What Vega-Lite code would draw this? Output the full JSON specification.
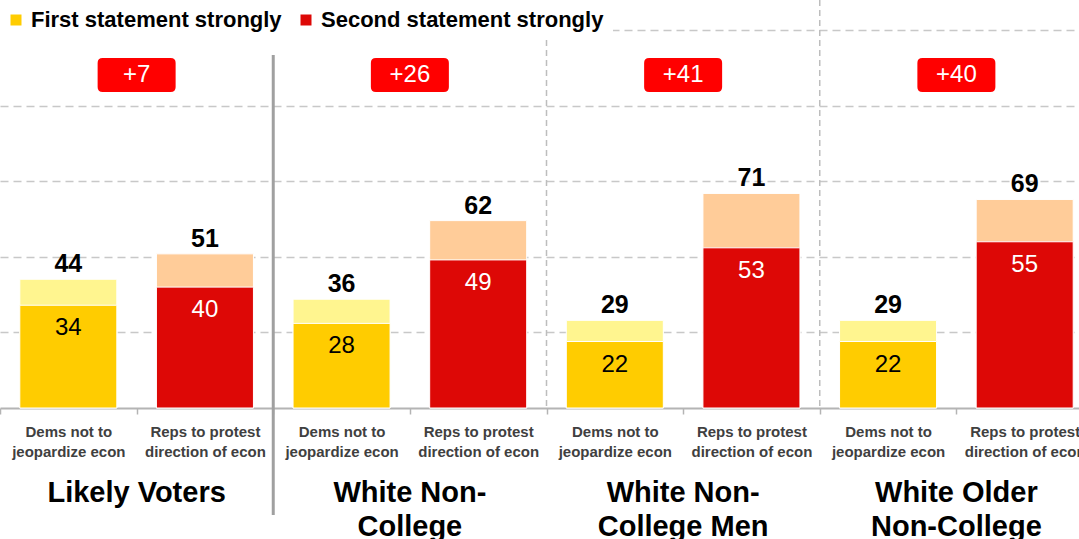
{
  "$schema": "https://vega.github.io/schema/vega-lite/v6.json",
  "autosize": "none",
  "width": 1093,
  "height": 408,
  "padding": {"left": 0, "top": 0, "right": 0, "bottom": 131},
  "background": "white",
  "config": {"font": "Liberation Sans", "view": {"stroke": null}},
  "datasets": {
    "bars": [
      {"group": "Likely Voters", "bar": "LV-dem", "side": "First statement strongly", "strong": 34, "total": 44, "top": 42.6},
      {"group": "Likely Voters", "bar": "LV-rep", "side": "Second statement strongly", "strong": 40, "total": 51, "top": 51},
      {"group": "White Non-\nCollege", "bar": "WNC-dem", "side": "First statement strongly", "strong": 28, "total": 36, "top": 36},
      {"group": "White Non-\nCollege", "bar": "WNC-rep", "side": "Second statement strongly", "strong": 49, "total": 62, "top": 62},
      {"group": "White Non-\nCollege Men", "bar": "WNCM-dem", "side": "First statement strongly", "strong": 22, "total": 29, "top": 29},
      {"group": "White Non-\nCollege Men", "bar": "WNCM-rep", "side": "Second statement strongly", "strong": 53, "total": 71, "top": 71},
      {"group": "White Older\nNon-College", "bar": "WONC-dem", "side": "First statement strongly", "strong": 22, "total": 29, "top": 29},
      {"group": "White Older\nNon-College", "bar": "WONC-rep", "side": "Second statement strongly", "strong": 55, "total": 69, "top": 69}
    ],
    "groups": [
      {"group": "Likely Voters", "bar": "LV-dem", "diff": "+7", "sep": "none"},
      {"group": "White Non-\nCollege", "bar": "WNC-dem", "diff": "+26", "sep": "solid"},
      {"group": "White Non-\nCollege Men", "bar": "WNCM-dem", "diff": "+41", "sep": "dashed"},
      {"group": "White Older\nNon-College", "bar": "WONC-dem", "diff": "+40", "sep": "dashed"}
    ]
  },
  "layer": [
    {
      "data": {"name": "bars"},
      "mark": {"type": "bar", "width": {"band": 0.71}, "stroke": "white", "strokeWidth": 1},
      "encoding": {
        "x": {
          "field": "bar",
          "type": "nominal",
          "scale": {
            "domain": ["LV-dem", "LV-rep", "WNC-dem", "WNC-rep", "WNCM-dem", "WNCM-rep", "WONC-dem", "WONC-rep"],
            "paddingInner": 0,
            "paddingOuter": 0
          },
          "axis": {
            "orient": "bottom",
            "title": null,
            "labelAngle": 0,
            "labelExpr": "isString(datum.value) ? (indexof(datum.value, 'dem') >= 0 ? ['Dems not to', 'jeopardize econ'] : ['Reps to protest', 'direction of econ']) : ''",
            "labelFontSize": 15,
            "labelFontWeight": "bold",
            "labelColor": "#404040",
            "labelLineHeight": 20,
            "labelPadding": 10,
            "labelLimit": 0,
            "labelOverlap": false,
            "labelFlush": false,
            "tickBand": "extent",
            "tickColor": "#B4B4B4",
            "tickSize": 6,
            "tickWidth": 1.5,
            "domainColor": "#B4B4B4",
            "domainWidth": 2,
            "grid": false
          }
        },
        "y": {
          "field": "top",
          "type": "quantitative",
          "scale": {"domain": [0, 135], "nice": false, "zero": false},
          "axis": {
            "title": null,
            "labels": false,
            "ticks": false,
            "domain": false,
            "grid": true,
            "values": [25, 50, 75, 100, 125],
            "gridColor": "#C8C8C8",
            "gridDash": [8, 5],
            "gridWidth": 1.5
          }
        },
        "color": {
          "condition": {"test": "datum.side == 'First statement strongly'", "value": "#FFF58F"},
          "value": "#FFCC99"
        }
      }
    },
    {
      "data": {"name": "bars"},
      "mark": {"type": "bar", "width": {"band": 0.71}, "stroke": "white", "strokeWidth": 1},
      "encoding": {
        "x": {"field": "bar", "type": "nominal"},
        "y": {"field": "strong", "type": "quantitative"},
        "color": {
          "field": "side",
          "type": "nominal",
          "scale": {"domain": ["First statement strongly", "Second statement strongly"], "range": ["#FFCC00", "#DD0806"]},
          "legend": {
            "title": null,
            "orient": "none",
            "legendX": -4,
            "legendY": 0,
            "direction": "horizontal",
            "fillColor": "white",
            "padding": 9,
            "symbolType": "square",
            "symbolSize": 121,
            "symbolStrokeWidth": 0,
            "symbolOpacity": 1,
            "labelFontSize": 22,
            "labelFontWeight": "bold",
            "labelColor": "#000000",
            "labelOffset": 4,
            "columnPadding": 13,
            "labelLimit": 0
          }
        }
      }
    },
    {
      "data": {"name": "bars"},
      "mark": {"type": "text", "dy": -15, "fontSize": 25, "fontWeight": "bold", "color": "#000000"},
      "encoding": {
        "x": {"field": "bar", "type": "nominal"},
        "y": {"field": "top", "type": "quantitative"},
        "text": {"field": "total"}
      }
    },
    {
      "data": {"name": "bars"},
      "mark": {"type": "text", "dy": 23, "fontSize": 24},
      "encoding": {
        "x": {"field": "bar", "type": "nominal"},
        "y": {"field": "strong", "type": "quantitative"},
        "text": {"field": "strong"},
        "color": {
          "condition": {"test": "datum.side == 'First statement strongly'", "value": "#000000"},
          "value": "#FFFFFF"
        }
      }
    },
    {
      "data": {"name": "groups"},
      "transform": [{"filter": "datum.sep == 'dashed'"}],
      "mark": {"type": "rule", "color": "#BDBDBD", "strokeWidth": 1.5, "strokeDash": [6, 4]},
      "encoding": {
        "x": {"field": "bar", "type": "nominal", "bandPosition": 0},
        "y": {"datum": 135, "type": "quantitative"},
        "y2": {"datum": 0}
      }
    },
    {
      "data": {"name": "groups"},
      "transform": [{"filter": "datum.sep == 'solid'"}],
      "mark": {"type": "rule", "color": "#A0A0A0", "strokeWidth": 3},
      "encoding": {
        "x": {"field": "bar", "type": "nominal", "bandPosition": 0},
        "y": {"datum": 116.8, "type": "quantitative"},
        "y2": {"datum": -35.4}
      }
    },
    {
      "data": {"name": "groups"},
      "mark": {
        "type": "point",
        "shape": "M-0.872,-0.436 H0.872 Q1,-0.436 1,-0.308 V0.308 Q1,0.436 0.872,0.436 H-0.872 Q-1,0.436 -1,0.308 V-0.308 Q-1,-0.436 -0.872,-0.436 Z",
        "size": 6084,
        "filled": true,
        "color": "#FF0000",
        "opacity": 1,
        "strokeWidth": 0
      },
      "encoding": {
        "x": {"field": "bar", "type": "nominal", "bandPosition": 1},
        "y": {"datum": 110.2, "type": "quantitative"}
      }
    },
    {
      "data": {"name": "groups"},
      "mark": {"type": "text", "color": "#FFFFFF", "fontSize": 24},
      "encoding": {
        "x": {"field": "bar", "type": "nominal", "bandPosition": 1},
        "y": {"datum": 110.2, "type": "quantitative"},
        "text": {"field": "diff"}
      }
    },
    {
      "data": {"name": "groups"},
      "mark": {"type": "text", "color": "#000000", "fontSize": 29, "fontWeight": "bold", "baseline": "top", "lineBreak": "\n", "lineHeight": 34},
      "encoding": {
        "x": {"field": "bar", "type": "nominal", "bandPosition": 1},
        "y": {"datum": -23.5, "type": "quantitative"},
        "text": {"field": "group"}
      }
    }
  ]
}
